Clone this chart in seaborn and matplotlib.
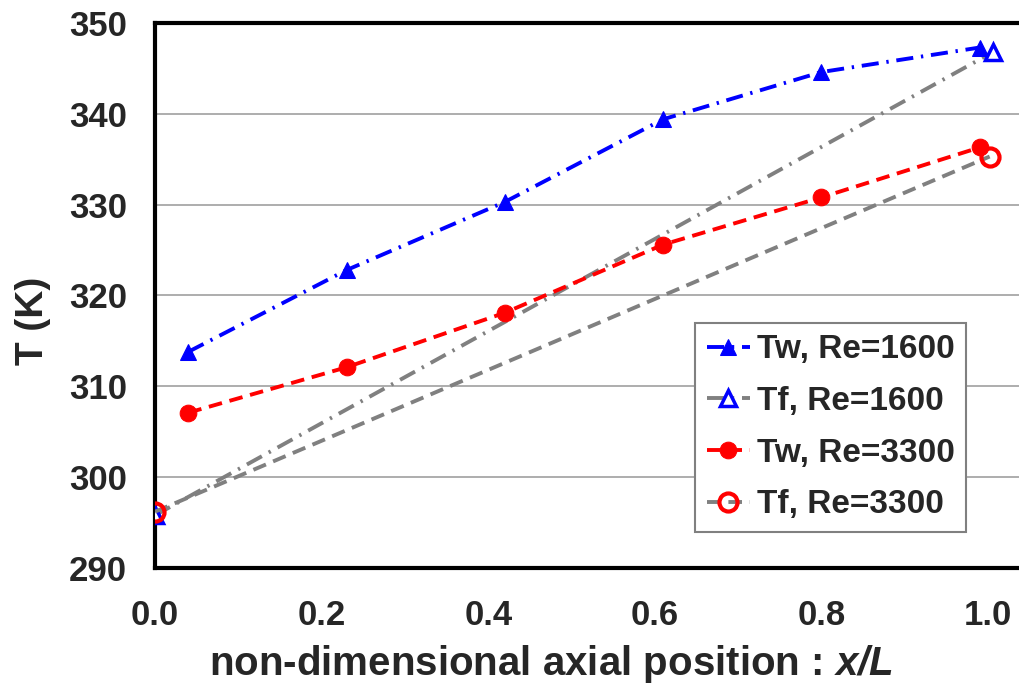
import matplotlib
matplotlib.use("Agg")
import matplotlib.pyplot as plt
import seaborn as sns
import pandas as pd

# Data
x_tw = [0.04, 0.23, 0.42, 0.61, 0.80, 0.99]
tw_1600 = [313.8, 322.8, 330.3, 339.4, 344.6, 347.3]
tw_3300 = [307.1, 312.1, 318.1, 325.6, 330.8, 336.3]
x_tf_1600 = [0.0, 1.006]
tf_1600 = [295.8, 346.8]
x_tf_3300 = [0.0, 1.002]
tf_3300 = [296.2, 335.3]
labels = ["Tw, Re=1600", "Tf, Re=1600", "Tw, Re=3300", "Tf, Re=3300"]

sns.set_style("white")
plt.rcParams['font.family'] = ['Liberation Sans', 'DejaVu Sans']
plt.rcParams['font.weight'] = 'bold'
plt.rcParams['mathtext.fontset'] = 'custom'
plt.rcParams['mathtext.bfit'] = 'Liberation Sans:bold:italic'

fig = plt.figure(figsize=(10.19, 6.86), dpi=100)
ax = fig.add_axes([155/1019, 1-568/686, 1-155/1019, (568-23)/686])

lw = 2.8
dashdot = [4.4, 2.0, 0.6, 2.0]
dashed = [3.5, 2.0]
sns.lineplot(x=x_tw, y=tw_1600, ax=ax, color="#0000FF", lw=lw, sort=False,
             marker="^", markersize=11, markeredgecolor="#0000FF",
             dashes=False, label=labels[0], zorder=4)
ax.lines[-1].set_dashes(dashdot)
sns.lineplot(x=x_tf_1600, y=tf_1600, ax=ax, color="#808080", lw=lw, sort=False,
             dashes=False, label=labels[1], zorder=3)
l = ax.lines[-1]
l.set_dashes(dashdot)
l.set_marker("^"); l.set_markersize(11); l.set_markerfacecolor("white")
l.set_markeredgecolor("#0000FF"); l.set_markeredgewidth(2.5)
sns.lineplot(x=x_tw, y=tw_3300, ax=ax, color="#FF0000", lw=lw, sort=False,
             marker="o", markersize=12, markeredgecolor="#FF0000",
             dashes=False, label=labels[2], zorder=4)
ax.lines[-1].set_dashes(dashed)
sns.lineplot(x=x_tf_3300, y=tf_3300, ax=ax, color="#808080", lw=lw, sort=False,
             dashes=False, label=labels[3], zorder=3)
l = ax.lines[-1]
l.set_dashes(dashed)
l.set_marker("o"); l.set_markersize(13); l.set_markerfacecolor("none")
l.set_markeredgecolor("#FF0000"); l.set_markeredgewidth(3)

ax.set_xlim(0, (1019-155)/833)
ax.set_ylim(290, 350)
ax.set_xticks([0.0, 0.2, 0.4, 0.6, 0.8, 1.0])
ax.set_xticklabels(["0.0", "0.2", "0.4", "0.6", "0.8", "1.0"])
ax.set_yticks(range(290, 351, 10))
ax.yaxis.grid(True, color="#A0A0A0", lw=1.2)
ax.xaxis.grid(False)
ax.set_axisbelow(True)

for s in ["left", "bottom", "top"]:
    ax.spines[s].set_visible(True)
    ax.spines[s].set_color("black")
    ax.spines[s].set_linewidth(3)
ax.spines["right"].set_visible(False)

ax.tick_params(axis="both", direction="inout", length=12, width=2.5,
               labelsize=25, color="black")
ax.tick_params(axis="y", pad=14)
ax.tick_params(axis="x", pad=16)
for t in ax.get_xticklabels() + ax.get_yticklabels():
    t.set_fontweight("bold")

ax.set_ylabel("T (K)", fontsize=28, fontweight="bold")
ax.yaxis.label.set_va("baseline")
ax.yaxis.set_label_coords(-0.13, 0.453)
ax.set_xlabel("non-dimensional axial position : $\\mathbfit{x/L}$", fontsize=29,
              fontweight="bold")
ax.xaxis.label.set_va("baseline")
ax.xaxis.set_label_coords(0.458, -0.196)

leg = ax.legend(loc="upper left", bbox_to_anchor=(0.625, 0.45), borderaxespad=0,
                frameon=True, fancybox=False, framealpha=1, edgecolor="#808080",
                prop={"size": 24, "weight": "bold"}, handlelength=1.3,
                handletextpad=0.2, labelspacing=0.62, borderpad=0.35)
leg.get_frame().set_linewidth(1.5)

fig.savefig("out.png", dpi=100)
